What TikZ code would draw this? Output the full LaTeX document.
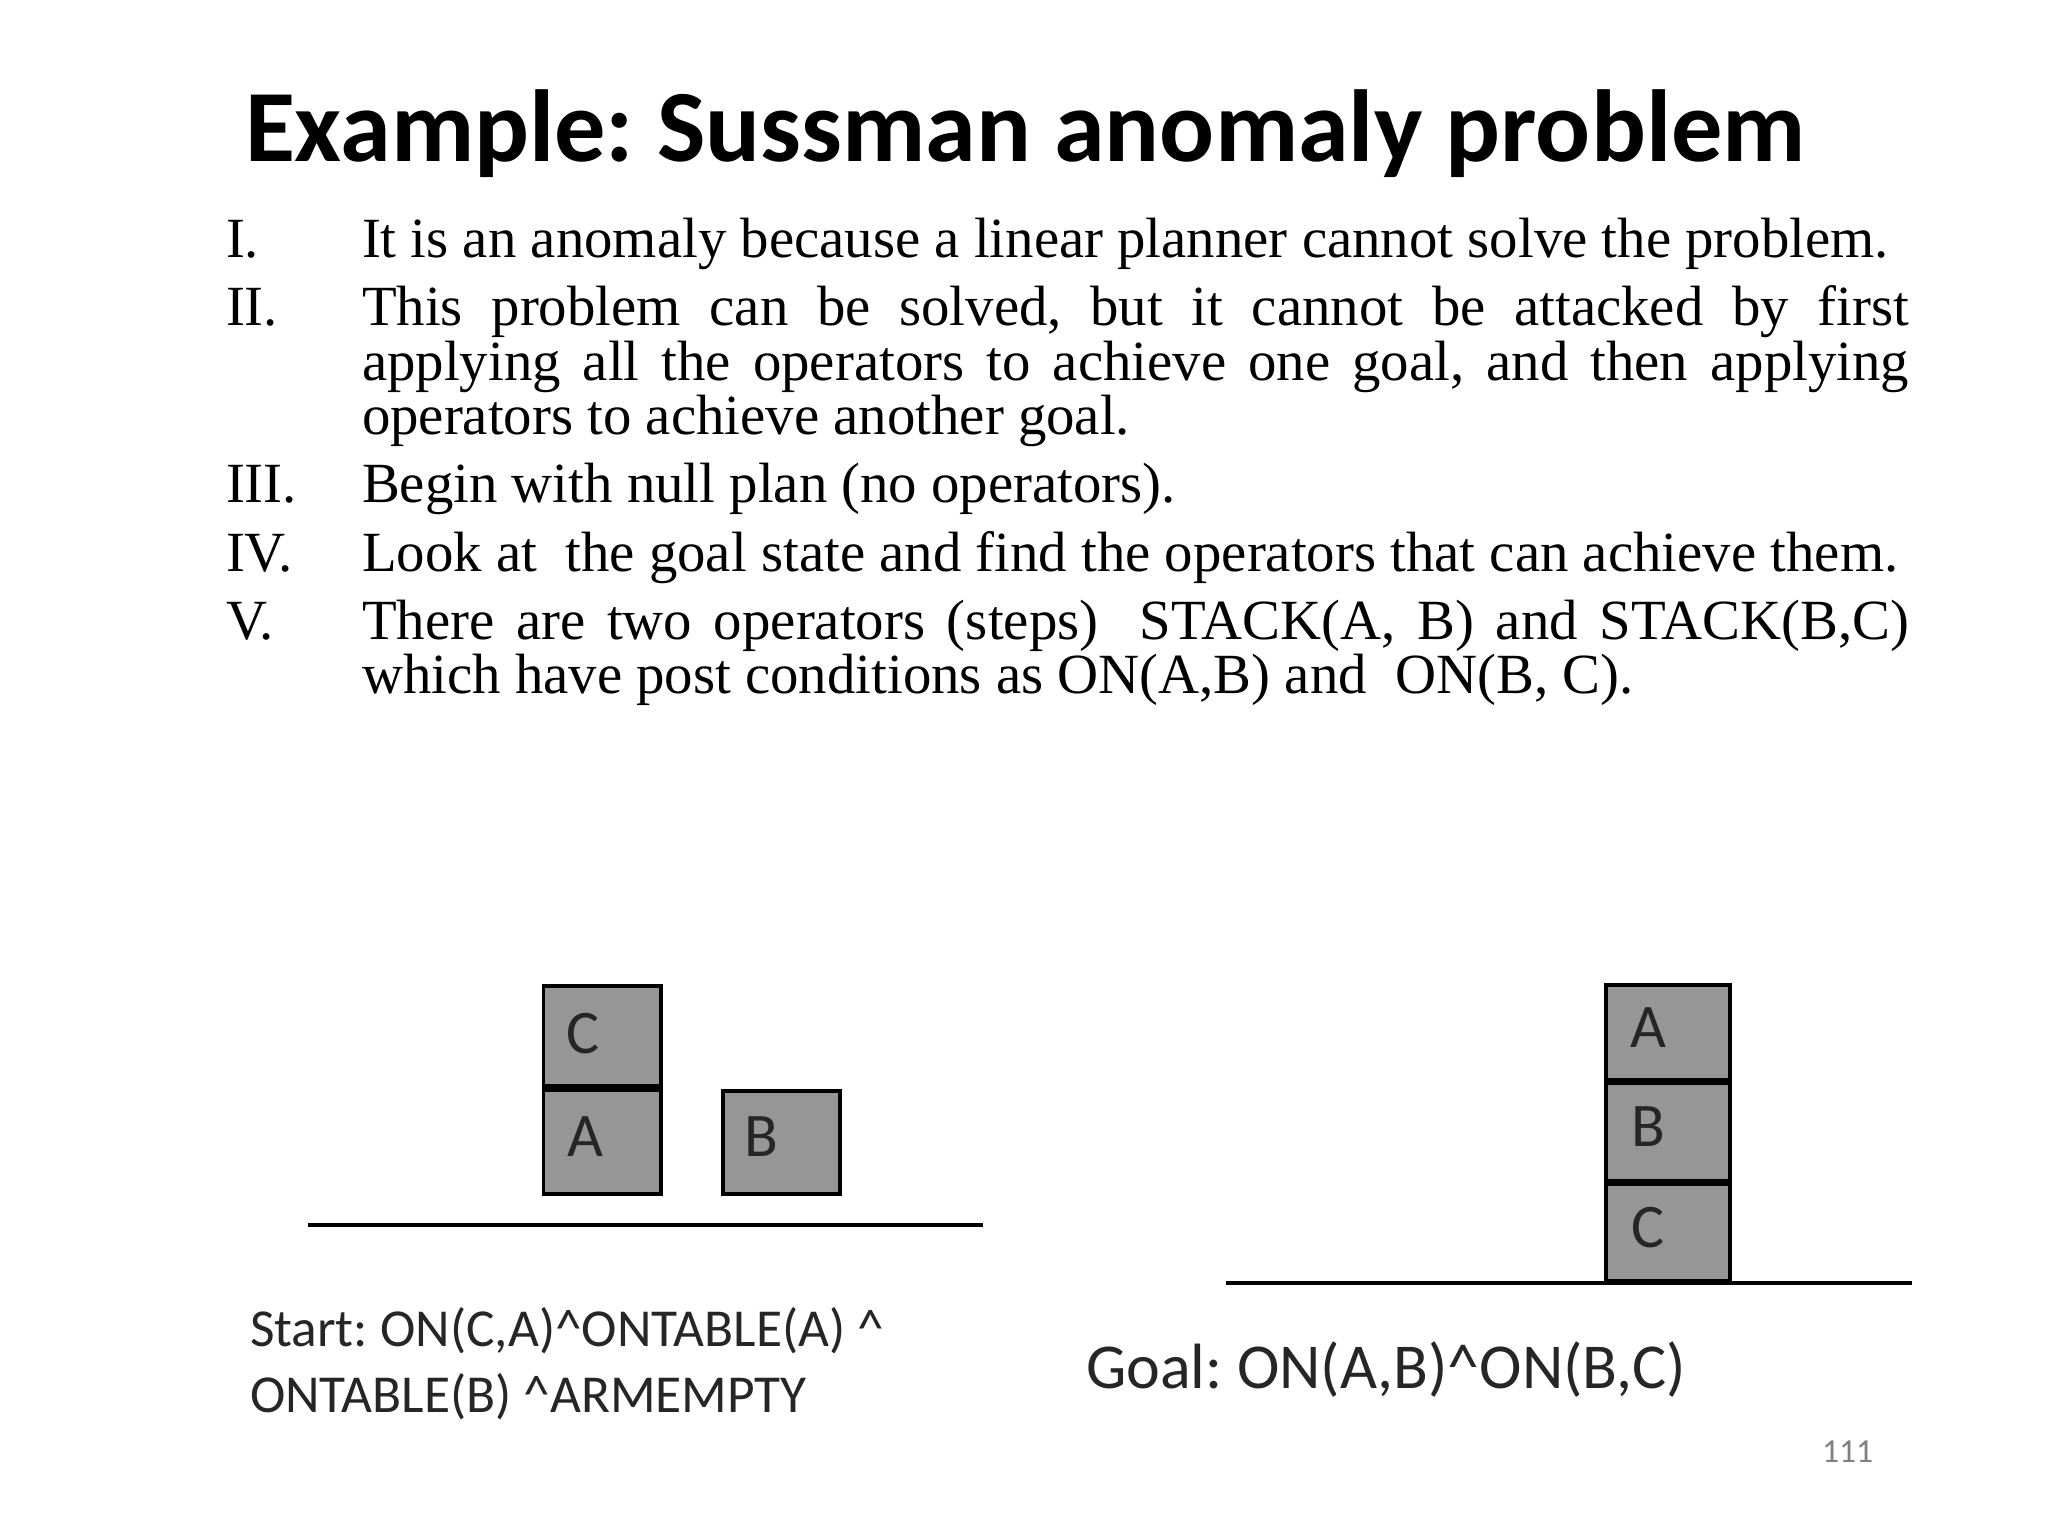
\documentclass[tikz,border=0pt]{standalone}
\usepackage{fontspec}
\setmainfont{Liberation Serif}
\newfontfamily\carl{Carlito}
\frenchspacing
\tikzset{
  x=0.5pt,y=-0.5pt,
  blockbox/.style={draw=black,fill=blockgray,line width=1.7pt,inner sep=0pt,minimum width=0pt,minimum height=0pt,rectangle},
  groundline/.style={line width=2pt,draw=black},
  base/.style={anchor=base west,inner sep=0pt,outer sep=0pt},
  titletext/.style={base,font=\carl\bfseries\fontsize{51.2}{51.2}\selectfont},
  bodytext/.style={base,font=\fontsize{28.4}{28.4}\selectfont},
  lettertext/.style={base,font=\carl\fontsize{31}{31}\selectfont,text=black!85},
  statetext/.style={base,font=\carl\fontsize{26.7}{26.7}\selectfont,text=black!85},
  goaltext/.style={base,font=\carl\fontsize{32}{32}\selectfont,text=black!85},
  pagetext/.style={base,font=\carl\fontsize{16.8}{16.8}\selectfont,text=black!50},
}
\definecolor{blockgray}{HTML}{969696}
\newcommand{\fullline}[1]{\hbox to 773.5pt{\spaceskip=0.25em plus 1fil\relax #1}}
\begin{document}
\begin{tikzpicture}
\useasboundingbox (0,0) rectangle (2048,1536);
\fill[white] (0,0) rectangle (2048,1536);
\node[titletext] (title) at (245,161) {Example: Sussman anomaly problem};

\node[bodytext] (n1) at (226,257) {I.};
\node[bodytext] (t1) at (362,257) {It is an anomaly because a linear planner cannot solve the problem.};
\node[bodytext] (n2) at (226,325) {II.};
\node[bodytext] (t2a) at (362,325) {\fullline{This problem can be solved, but it cannot be attacked by first}};
\node[bodytext] (t2b) at (362,380) {\fullline{applying all the operators to achieve one goal, and then applying}};
\node[bodytext] (t2c) at (362,434) {operators to achieve another goal.};
\node[bodytext] (n3) at (226,502) {III.};
\node[bodytext] (t3) at (362,502) {Begin with null plan (no operators).};
\node[bodytext] (n4) at (226,571) {IV.};
\node[bodytext] (t4) at (362,571) {Look at\ \ the goal state and find the operators that can achieve them.};
\node[bodytext] (n5) at (226,639) {V.};
\node[bodytext] (t5a) at (362,639) {\fullline{There are two operators (steps)\hspace{0.35em} STACK(A, B) and STACK(B,C)}};
\node[bodytext] (t5b) at (362,693) {which have post conditions as ON(A,B) and\ \ ON(B, C).};

% start state
\path[blockbox] (543.5,986) rectangle (661,1086);
\path[blockbox] (543.5,1090) rectangle (661,1194);
\path[blockbox] (723,1091) rectangle (840,1194);
\draw[groundline] (308,1225) -- (983,1225);
\node[lettertext] (sc) at (566,1053) {C};
\node[lettertext] (sa) at (567,1156) {A};
\node[lettertext] (sb) at (744,1156) {B};
\node[statetext] (s1) at (250,1346) {Start: ON(C,A)\textasciicircum ONTABLE(A) \textasciicircum};
\node[statetext] (s2) at (250,1412) {ONTABLE(B) \textasciicircum ARMEMPTY};

% goal state
\draw[groundline] (1226,1283) -- (1912,1283);
\path[blockbox] (1606,985) rectangle (1730,1079.5);
\path[blockbox] (1606,1083) rectangle (1730,1181);
\path[blockbox] (1606,1184.5) rectangle (1730,1281);
\node[lettertext] (ga) at (1630,1047) {A};
\node[lettertext] (gb) at (1631,1146) {B};
\node[lettertext] (gc) at (1631,1247) {C};
\node[goaltext] (g1) at (1086,1388) {Goal: ON(A,B)\textasciicircum ON(B,C)};
\node[pagetext] (page) at (1822,1462) {111};
\end{tikzpicture}
\end{document}
